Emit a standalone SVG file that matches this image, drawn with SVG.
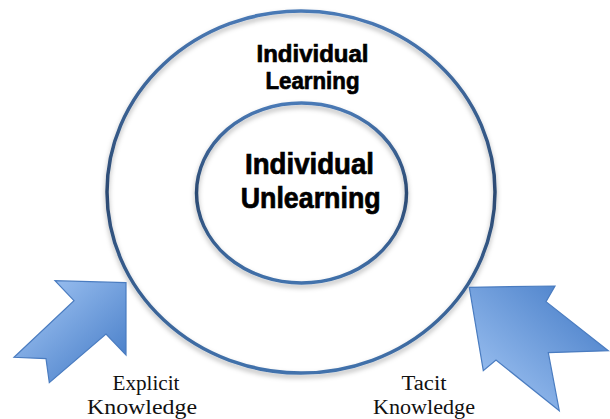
<svg xmlns="http://www.w3.org/2000/svg" width="610" height="419" viewBox="0 0 610 419">
<defs>
<style>
.ring{fill:none;stroke:url(#gRing);stroke-width:3.5;filter:url(#sh)}
.bold{font-family:"Liberation Sans",Arial,sans-serif;font-weight:bold;fill:#000;stroke:#000;stroke-width:0.7;text-anchor:middle}
.serif{font-family:"Liberation Serif","Times New Roman",serif;font-size:20px;fill:#111;text-anchor:middle}
.arrow{stroke:#4a7cc0;stroke-width:1.2;stroke-linejoin:miter}
</style>
<filter id="sh" x="-10%" y="-10%" width="120%" height="125%">
<feDropShadow dx="0" dy="3" stdDeviation="2.5" flood-color="#000" flood-opacity="0.3"/>
</filter>
<linearGradient id="gRing" x1="0" y1="0" x2="0" y2="1">
<stop offset="0" stop-color="#4a7ab6"/>
<stop offset="0.5" stop-color="#2c4a72"/>
<stop offset="1" stop-color="#4272ac"/>
</linearGradient>
<linearGradient id="gL" x1="0" y1="0" x2="1" y2="1">
<stop offset="0" stop-color="#a9cbf7"/>
<stop offset="1" stop-color="#3f77c4"/>
</linearGradient>
<linearGradient id="gR" x1="0" y1="1" x2="1" y2="0">
<stop offset="0" stop-color="#a9cbf7"/>
<stop offset="1" stop-color="#3f77c4"/>
</linearGradient>
</defs>
<rect width="610" height="419" fill="#fff"/>
<g id="outer">
<ellipse class="ring" cx="301" cy="192" rx="194" ry="181"/>
<text class="bold" font-size="24" x="312.5" y="61.5" textLength="112" lengthAdjust="spacingAndGlyphs">Individual</text>
<text class="bold" font-size="24" x="312.5" y="88.5" textLength="94" lengthAdjust="spacingAndGlyphs">Learning</text>
</g>
<g id="inner">
<ellipse class="ring" cx="301.5" cy="193" rx="105" ry="90"/>
<text class="bold" font-size="29" x="309.5" y="174" textLength="129" lengthAdjust="spacingAndGlyphs">Individual</text>
<text class="bold" font-size="29" x="310.7" y="207.5" textLength="140" lengthAdjust="spacingAndGlyphs">Unlearning</text>
</g>
<g id="explicit">
<polygon class="arrow" fill="url(#gL)" points="126,282.7 55,280.7 74,300.7 14,357.3 46,358.7 49.3,382.7 106,334 126,355"/>
<text class="serif" x="146" y="390" textLength="67" lengthAdjust="spacingAndGlyphs">Explicit</text>
<text class="serif" x="142" y="413.5" textLength="110" lengthAdjust="spacingAndGlyphs">Knowledge</text>
</g>
<g id="tacit">
<polygon class="arrow" fill="url(#gR)" points="469.3,287.3 555,286 546,301.7 608.3,350.7 548.3,352.7 559.3,410.7 496,360 483.3,370.7"/>
<text class="serif" x="424" y="390" textLength="45" lengthAdjust="spacingAndGlyphs">Tacit</text>
<text class="serif" x="424" y="413.5" textLength="102" lengthAdjust="spacingAndGlyphs">Knowledge</text>
</g>
<g id="connectors"/>
</svg>
